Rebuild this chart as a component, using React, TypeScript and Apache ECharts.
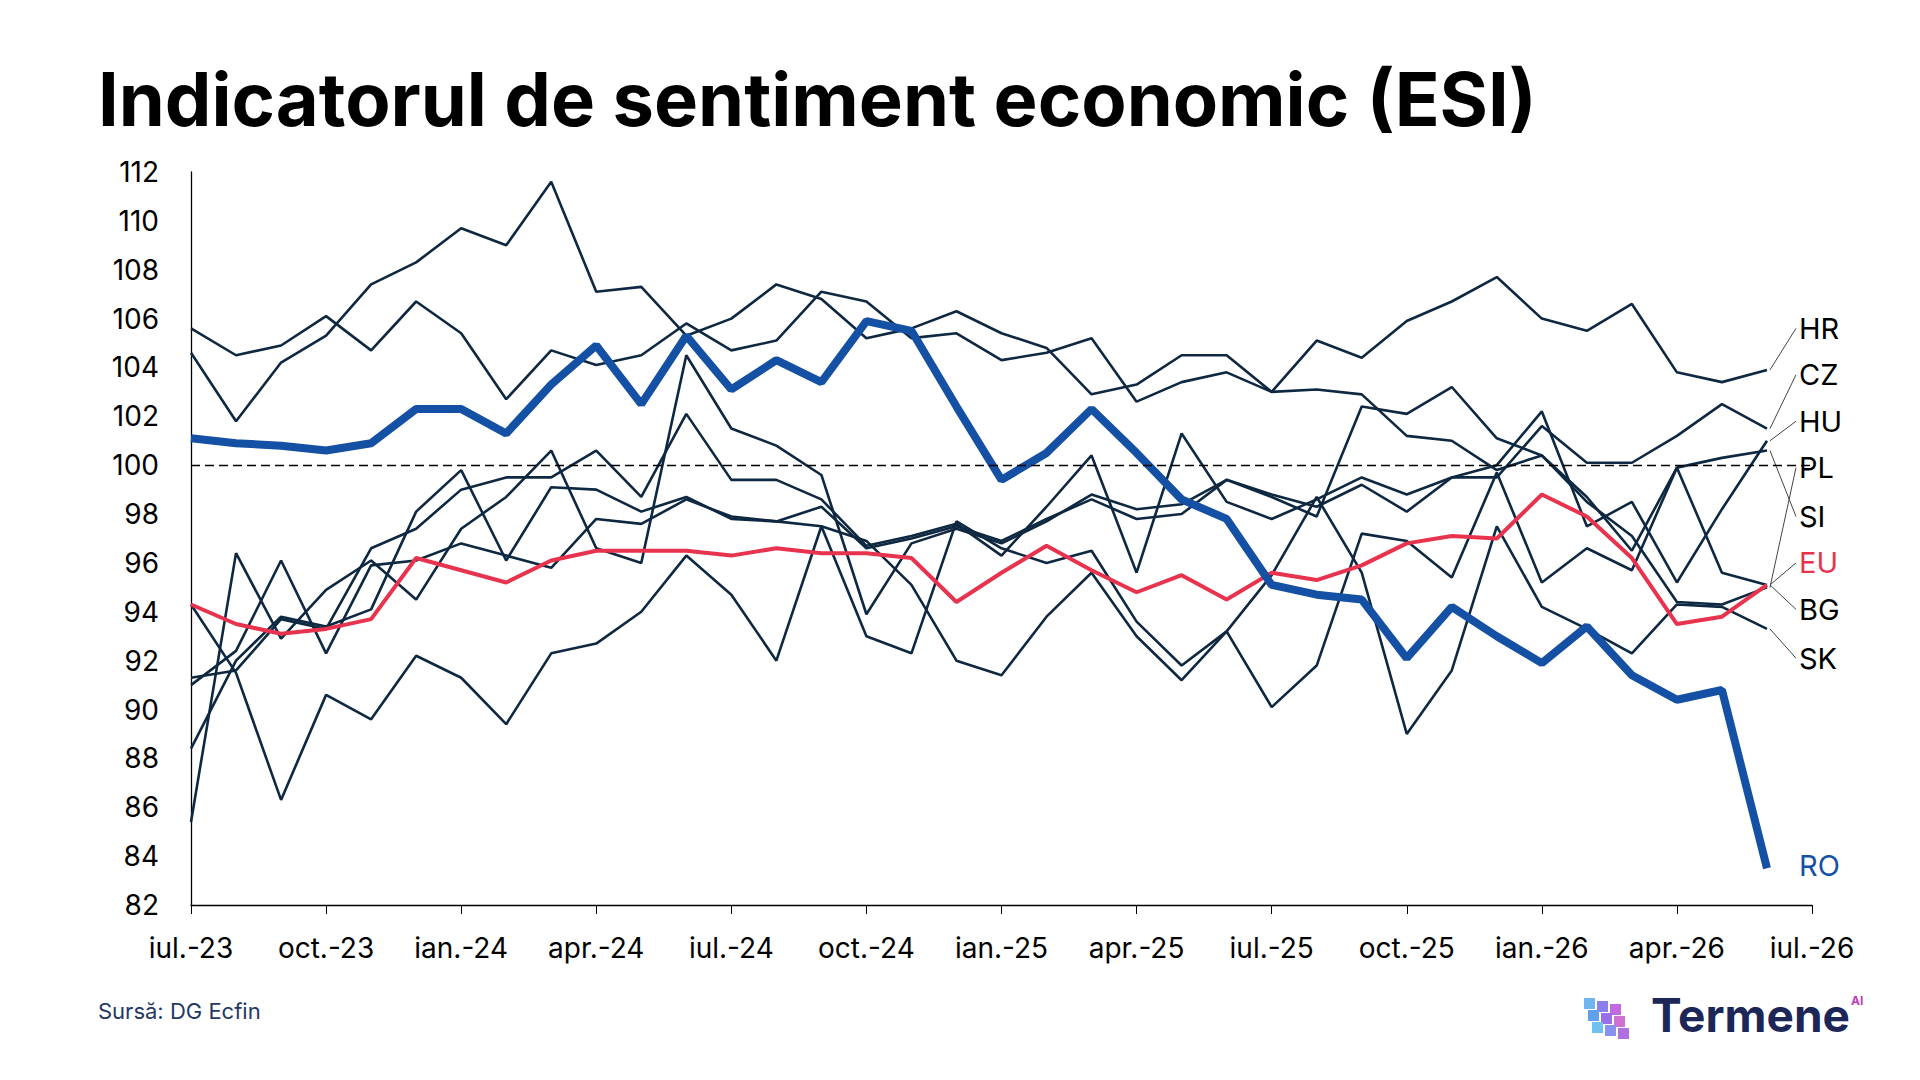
import React, { useEffect, useRef } from "react";
import * as echarts from "echarts";

const xTicks = ["iul.-23","oct.-23","ian.-24","apr.-24","iul.-24","oct.-24","ian.-25","apr.-25","iul.-25","oct.-25","ian.-26","apr.-26","iul.-26"];
const RO = [101.1,100.9,100.8,100.6,100.9,102.3,102.3,101.3,103.3,104.9,102.5,105.3,103.1,104.3,103.4,105.9,105.5,102.4,99.4,100.5,102.3,100.5,98.6,97.8,95.1,94.7,94.5,92.1,94.2,93.0,91.9,93.4,91.4,90.4,90.8,83.5];
const EU = [94.3,93.5,93.1,93.3,93.7,96.2,95.7,95.2,96.1,96.5,96.5,96.5,96.3,96.6,96.4,96.4,96.2,94.4,95.6,96.7,95.7,94.8,95.5,94.5,95.6,95.3,95.9,96.8,97.1,97.0,98.8,97.9,96.2,93.5,93.8,95.1];
const HR = [105.6,104.5,104.9,106.1,104.7,106.7,105.4,102.7,104.7,104.1,104.5,105.8,104.7,105.1,107.1,106.7,105.2,105.4,104.3,104.6,105.2,102.6,103.4,103.8,103.0,105.1,104.4,105.9,106.7,107.7,106.0,105.5,106.6,103.8,103.4,103.9];
const PL = [104.6,101.8,104.2,105.3,107.4,108.3,109.7,109.0,111.6,107.1,107.3,105.3,106.0,107.4,106.8,105.2,105.6,106.3,105.4,104.8,102.9,103.3,104.5,104.5,103.0,103.1,102.9,101.2,101.0,99.8,100.4,98.5,97.1,94.4,94.3,95.0];
const CZ = [91.3,91.6,93.7,93.3,96.6,97.4,99.0,99.5,99.5,100.6,98.7,102.1,99.4,99.4,98.6,96.7,97.1,97.6,96.3,98.3,100.4,95.6,101.3,98.5,97.8,98.6,99.5,98.8,99.5,99.5,101.6,100.1,100.1,101.2,102.5,101.5];
const HU = [88.4,92.0,93.8,93.4,94.1,98.1,99.8,96.1,99.1,99.0,98.1,98.7,97.8,97.7,98.3,96.6,97.0,97.5,96.9,97.8,98.6,97.8,98.0,99.4,98.8,98.3,99.2,98.1,99.5,100.0,102.2,97.5,98.5,95.2,98.2,101.0];
const SI = [85.4,96.4,92.9,94.9,96.1,94.5,97.4,98.7,100.6,96.6,96.0,104.5,101.5,100.8,99.6,93.9,96.8,97.4,96.8,97.7,98.8,98.2,98.4,99.4,98.7,97.9,102.4,102.1,103.2,101.1,100.4,98.7,96.5,99.9,100.3,100.6];
const BG = [91.0,92.4,96.1,92.3,95.9,96.1,96.8,96.3,95.8,97.8,97.6,98.6,97.9,97.7,97.5,96.9,95.1,92.0,91.4,93.8,95.6,93.0,91.2,93.2,90.1,91.8,97.2,96.9,95.4,99.7,95.2,96.6,95.7,99.9,95.6,95.1];
const SK = [94.3,91.5,86.3,90.6,89.6,92.2,91.3,89.4,92.3,92.7,94.0,96.3,94.7,92.0,97.5,93.0,92.3,97.7,96.6,96.0,96.5,93.6,91.8,93.2,95.5,98.7,95.6,89.0,91.6,97.5,94.2,93.3,92.3,94.3,94.2,93.3];

const grayNames = ["HR","CZ","HU","PL","SI","BG","SK"];
const grayData = [HR, CZ, HU, PL, SI, BG, SK];
const labelLevels = [105.6, 103.7, 101.8, 99.9, 97.9, 96.0, 94.1, 92.1, 83.6];
const labelNames = ["HR","CZ","HU","PL","SI","EU","BG","SK","RO"];
const labelSeries = [HR, CZ, HU, PL, SI, EU, BG, SK, RO];

const GRAY = "#0e2841";
const RED = "#e8334f";
const BLUE = "#1450a3";

const toPts = (arr: number[]) => arr.map((v, i) => [i, v]);

export default function App() {
  const ref = useRef<HTMLDivElement>(null);
  useEffect(() => {
    const chart = echarts.init(ref.current!, null, { renderer: "svg" });
    const series: any[] = grayData.map((d, k) => ({
      type: "line", name: grayNames[k], data: toPts(d), symbol: "none",
      lineStyle: { color: GRAY, width: 2.6 }, z: 2,
    }));
    series.push({
      type: "line", name: "EU", data: toPts(EU), symbol: "none", lineStyle: { color: RED, width: 4 }, z: 3,
      markLine: { silent: true, symbol: "none", label: { show: false },
        lineStyle: { color: "#000", type: [9, 5], width: 1.3 }, data: [{ yAxis: 100 }] },
    });
    series.push({ type: "line", name: "RO", data: toPts(RO), symbol: "none", lineStyle: { color: BLUE, width: 8 }, z: 4 });
    const option: any = {
      animation: false,
      backgroundColor: "#fff",
      grid: { left: 183, right: 100, top: 164, bottom: 167 },
      xAxis: {
        type: "value", min: 0, max: 36, interval: 3,
        axisLine: { lineStyle: { color: "#000", width: 1.3 } },
        axisTick: { show: true, length: 9, lineStyle: { color: "#000" } },
        splitLine: { show: false },
        axisLabel: { formatter: (v: number) => xTicks[v / 3] ?? "", color: "#000", fontSize: 28, fontFamily: "Inter", margin: 29 },
      },
      yAxis: {
        type: "value", min: 82, max: 112, interval: 2,
        axisLine: { show: true, lineStyle: { color: "#000", width: 1.3 } },
        axisTick: { show: false }, splitLine: { show: false },
        axisLabel: { color: "#000", fontSize: 28, fontFamily: "Inter", margin: 32 },
      },
      series,
    };
    chart.setOption(option);
    const els: any[] = [
      { type: "text", left: 90, top: 54, style: { text: "Indicatorul de sentiment economic (ESI)", font: "bold 74px Inter", fill: "#000" } },
      { type: "text", left: 90, top: 992, style: { text: "Sursă: DG Ecfin", font: "22px Inter", fill: "#1f3864" } },
      { type: "text", left: 1643, top: 984, style: { text: "Termene", font: "bold 46px Inter", fill: "#1c2757" } },
      { type: "text", left: 1843, top: 986, style: { text: "AI", font: "bold 12px Inter", fill: "#c33cc0" } },
    ];
    const cubeCols = ["#6fb6f0", "#8a7ff0", "#c46ae0", "#5fa0f0", "#9a70e8", "#d070d0", "#70c0f0", "#8890f0", "#b070e0"];
    for (let r = 0; r < 3; r++) for (let c = 0; c < 3; c++) {
      els.push({ type: "rect", shape: { x: 1576 + c * 13 + r * 4, y: 990 + r * 12 + c * 3, width: 11, height: 11 }, style: { fill: cubeCols[r * 3 + c] } });
    }
    labelNames.forEach((n, k) => {
      const s = labelSeries[k];
      const end = chart.convertToPixel({ gridIndex: 0 }, [35, s[35]]) as number[];
      const lab = chart.convertToPixel({ gridIndex: 0 }, [35.6, labelLevels[k]]) as number[];
      const col = n === "EU" ? RED : n === "RO" ? BLUE : "#000";
      if (n !== "RO") {
        els.push({ type: "line", shape: { x1: end[0] + 3, y1: end[1], x2: lab[0] + 2, y2: lab[1] }, style: { stroke: "#444", lineWidth: 1 } });
      }
      els.push({ type: "text", x: lab[0] + 5, y: lab[1], style: { text: n, font: "29px Inter", fill: col, verticalAlign: "middle" } });
    });
    chart.setOption({ graphic: els });
    return () => chart.dispose();
  }, []);
  return <div ref={ref} style={{ width: 1904, height: 1064, background: "#fff" }} />;
}
